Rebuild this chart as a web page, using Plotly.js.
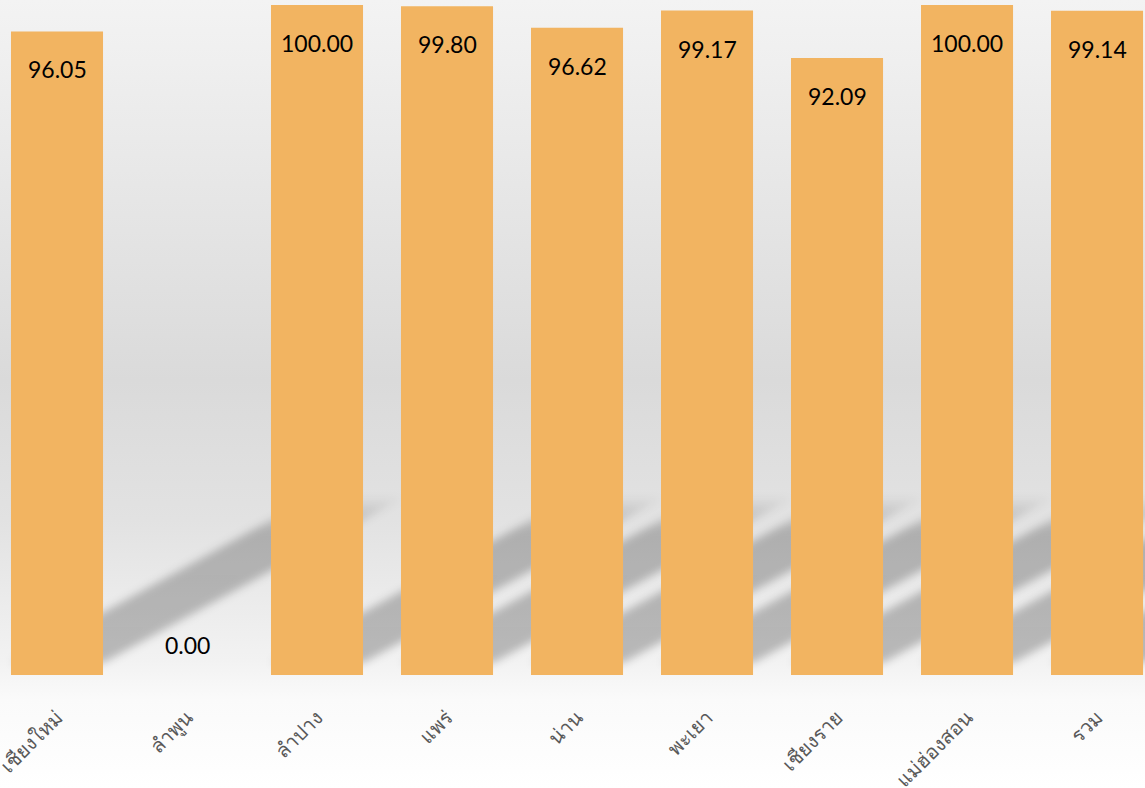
<!DOCTYPE html>
<html>
<head>
<meta charset="utf-8">
<script src="https://cdn.plot.ly/plotly-3.0.1.min.js"></script>
<style>
  html, body { margin: 0; padding: 0; }
  body { width: 1145px; height: 788px; overflow: hidden;
    background: linear-gradient(to bottom, #f3f3f3 0px, #e6e6e6 200px, #dadada 380px, #e2e2e2 520px, #f2f2f2 660px, #fafafa 700px, #ffffff 788px); }
  #chart { width: 1145px; height: 788px; }
</style>
</head>
<body>
<svg width="0" height="0" style="position:absolute">
  <defs>
    <filter id="shadowBlur" x="-50%" y="-50%" width="200%" height="200%">
      <feGaussianBlur stdDeviation="4.5"/>
    </filter>
    <linearGradient id="shadowFade" x1="0" y1="1" x2="0" y2="0">
      <stop offset="0" stop-color="#000" stop-opacity="0.24"/>
      <stop offset="0.8" stop-color="#000" stop-opacity="0.23"/>
      <stop offset="1" stop-color="#000" stop-opacity="0.02"/>
    </linearGradient>
  </defs>
</svg>
<div id="chart"></div>
<script>
const categories = ["เชียงใหม่", "ลำพูน", "ลำปาง", "แพร่", "น่าน", "พะเยา", "เชียงราย", "แม่ฮ่องสอน", "รวม"];
const values = [96.05, 0.00, 100.00, 99.80, 96.62, 99.17, 92.09, 100.00, 99.14];
const labels = ["96.05", "0.00", "100.00", "99.80", "96.62", "99.17", "92.09", "100.00", "99.14"];

const barColor = "#F2B461";
const halfW = 0.354;            // half bar width in category units
const pxPerCat = 130;           // horizontal pixels per category
const pxPerUnit = 6.7;          // vertical pixels per value unit

// decorative perspective shadows behind each non-zero bar
const shapes = [];
values.forEach((v, i) => {
  if (v <= 0) return;
  const lift = 12 / pxPerUnit;
  const dx = 300 / pxPerCat;
  const dy = 165 / pxPerUnit;
  const l = i - halfW, r = i + halfW;
  shapes.push({
    type: "path", xref: "x", yref: "y", layer: "below",
    path: `M ${l},${lift} L ${r},${lift} L ${r + dx},${lift + dy} L ${l + dx},${lift + dy} Z`,
    fillcolor: "rgba(0,0,0,0.22)", line: { width: 0 }
  });
});

const annotations = values.map((v, i) => ({
  x: i, y: v, xref: "x", yref: "y",
  text: labels[i], showarrow: false,
  yshift: v > 0 ? -38 : 30,
  font: { family: "Lato, 'Open Sans', sans-serif", size: 23, color: "#000000" }
}));

const trace = {
  type: "bar",
  x: categories.map((c, i) => i),
  y: values,
  marker: { color: barColor },
  width: 2 * halfW,
  hoverinfo: "skip"
};

const layout = {
  width: 1145, height: 788,
  margin: { l: 0, r: 0, t: 0, b: 113, pad: 0 },
  paper_bgcolor: "rgba(0,0,0,0)",
  plot_bgcolor: "rgba(0,0,0,0)",
  showlegend: false,
  xaxis: {
    range: [-0.4385, 8.369],
    tickmode: "array",
    tickvals: categories.map((c, i) => i),
    ticktext: categories,
    tickangle: -45,
    ticklabeloverflow: "allow",
    ticks: "outside", ticklen: 22, tickcolor: "rgba(0,0,0,0)",
    showgrid: false, zeroline: false, showline: false,
    tickfont: { family: "Loma, Garuda, Norasi, 'Noto Sans Thai Looped', 'Noto Serif Thai', 'Noto Sans', serif", size: 20, color: "#595959" }
  },
  yaxis: {
    range: [0, 100.746],
    visible: false, showgrid: false, zeroline: false
  },
  shapes: shapes,
  annotations: annotations
};

function styleShadows(gd) {
  gd.querySelectorAll(".shapelayer path").forEach(p => {
    p.setAttribute("filter", "url(#shadowBlur)");
    p.style.fill = "url(#shadowFade)";
    p.style.fillOpacity = 1;
    p.style.opacity = 1;
  });
}

Plotly.newPlot("chart", [trace], layout, { displayModeBar: false, staticPlot: true }).then(gd => {
  styleShadows(gd);
  gd.on("plotly_afterplot", () => styleShadows(gd));
});
</script>
</body>
</html>
